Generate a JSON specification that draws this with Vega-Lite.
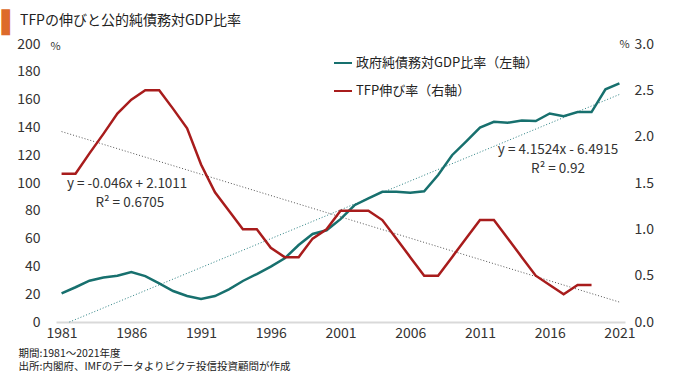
{
  "$schema": "https://vega.github.io/schema/vega-lite/v6.json",
  "autosize": {"type": "none"},
  "width": 569,
  "height": 278,
  "padding": {"left": 56, "top": 44, "right": 55, "bottom": 53},
  "background": "#ffffff",
  "config": {
    "font": "Noto Sans CJK JP",
    "view": {"stroke": null},
    "axis": {"grid": false, "titleFontWeight": "normal", "labelColor": "#333333", "titleColor": "#333333"}
  },
  "title": {
    "text": "TFPの伸びと公的純債務対GDP比率",
    "anchor": "start",
    "frame": "group",
    "dx": -36,
    "dy": 17,
    "offset": 0,
    "fontSize": 14,
    "fontWeight": "normal",
    "color": "#222222",
    "font": "Noto Sans CJK JP"
  },
  "datasets": {
    "debt": [
      {"year": 1981, "v": 20.6}, {"year": 1982, "v": 25.0}, {"year": 1983, "v": 29.7}, {"year": 1984, "v": 32.0},
      {"year": 1985, "v": 33.3}, {"year": 1986, "v": 36.0}, {"year": 1987, "v": 33.0}, {"year": 1988, "v": 27.8},
      {"year": 1989, "v": 22.3}, {"year": 1990, "v": 18.7}, {"year": 1991, "v": 16.5}, {"year": 1992, "v": 18.7},
      {"year": 1993, "v": 23.5}, {"year": 1994, "v": 29.5}, {"year": 1995, "v": 34.5}, {"year": 1996, "v": 39.8},
      {"year": 1997, "v": 45.8}, {"year": 1998, "v": 55.4}, {"year": 1999, "v": 63.3}, {"year": 2000, "v": 66.0},
      {"year": 2001, "v": 74.0}, {"year": 2002, "v": 84.0}, {"year": 2003, "v": 89.0}, {"year": 2004, "v": 93.7},
      {"year": 2005, "v": 93.7}, {"year": 2006, "v": 93.0}, {"year": 2007, "v": 94.0}, {"year": 2008, "v": 105.8},
      {"year": 2009, "v": 120.0}, {"year": 2010, "v": 129.7}, {"year": 2011, "v": 139.8}, {"year": 2012, "v": 144.0},
      {"year": 2013, "v": 143.4}, {"year": 2014, "v": 145.0}, {"year": 2015, "v": 144.6}, {"year": 2016, "v": 150.0},
      {"year": 2017, "v": 148.0}, {"year": 2018, "v": 151.0}, {"year": 2019, "v": 151.0}, {"year": 2020, "v": 167.4},
      {"year": 2021, "v": 171.7}
    ],
    "tfp": [
      {"year": 1981, "v": 1.6}, {"year": 1982, "v": 1.6}, {"year": 1983, "v": 1.82}, {"year": 1984, "v": 2.03},
      {"year": 1985, "v": 2.25}, {"year": 1986, "v": 2.4}, {"year": 1987, "v": 2.5}, {"year": 1988, "v": 2.5},
      {"year": 1989, "v": 2.3}, {"year": 1990, "v": 2.09}, {"year": 1991, "v": 1.7}, {"year": 1992, "v": 1.4},
      {"year": 1993, "v": 1.2}, {"year": 1994, "v": 1.0}, {"year": 1995, "v": 1.0}, {"year": 1996, "v": 0.8},
      {"year": 1997, "v": 0.7}, {"year": 1998, "v": 0.7}, {"year": 1999, "v": 0.9}, {"year": 2000, "v": 1.0},
      {"year": 2001, "v": 1.2}, {"year": 2002, "v": 1.2}, {"year": 2003, "v": 1.2}, {"year": 2004, "v": 1.1},
      {"year": 2005, "v": 0.9}, {"year": 2006, "v": 0.7}, {"year": 2007, "v": 0.5}, {"year": 2008, "v": 0.5},
      {"year": 2009, "v": 0.7}, {"year": 2010, "v": 0.9}, {"year": 2011, "v": 1.1}, {"year": 2012, "v": 1.1},
      {"year": 2013, "v": 0.9}, {"year": 2014, "v": 0.7}, {"year": 2015, "v": 0.5}, {"year": 2016, "v": 0.4},
      {"year": 2017, "v": 0.3}, {"year": 2018, "v": 0.4}, {"year": 2019, "v": 0.4}
    ],
    "debtTrend": [{"year": 1981.56, "v": 0}, {"year": 2021, "v": 163.7}],
    "tfpTrend": [{"year": 1981, "v": 2.055}, {"year": 2021, "v": 0.215}],
    "labels": [
      {"year": 1985.7, "v": 99.5, "text": "y = -0.046x + 2.1011"},
      {"year": 1985.9, "v": 85.5, "text": "R² = 0.6705"},
      {"year": 2016.6, "v": 124.0, "text": "y = 4.1524x - 6.4915"},
      {"year": 2016.6, "v": 110.0, "text": "R² = 0.92"}
    ]
  },
  "layer": [
    {
      "encoding": {
        "x": {
          "field": "year", "type": "quantitative",
          "scale": {"domain": [1980.6, 2021.4], "nice": false, "zero": false},
          "axis": {
            "orient": "bottom",
            "values": [1981, 1986, 1991, 1996, 2001, 2006, 2011, 2016, 2021],
            "format": "d",
            "labelFlush": false,
            "labelOverlap": false,
            "domain": true, "domainColor": "#d9d9d9", "domainWidth": 2,
            "ticks": false,
            "labelFontSize": 14, "labelPadding": 4,
            "title": ["期間:1981～2021年度", "出所:内閣府、IMFのデータよりピクテ投信投資顧問が作成"],
            "titleFontSize": 10.5, "titleAnchor": "start", "titleAlign": "left",
            "titleBaseline": "top", "titleX": -38, "titleY": 26, "titleLineHeight": 13.5,
            "titleColor": "#222222"
          }
        },
        "y": {
          "field": "v", "type": "quantitative",
          "scale": {"domain": [0, 200], "nice": false},
          "axis": {
            "orient": "left",
            "values": [0, 20, 40, 60, 80, 100, 120, 140, 160, 180, 200],
            "domain": false, "ticks": false, "tickSize": 0,
            "labelFontSize": 14, "labelPadding": 16,
            "title": "%", "titleAngle": 0, "titleX": -1, "titleY": 2,
            "titleAlign": "center", "titleBaseline": "middle", "titleFontSize": 11
          }
        }
      },
      "layer": [
        {
          "data": {"name": "debtTrend"},
          "mark": {"type": "line", "color": "#2a8082", "strokeWidth": 1, "strokeDash": [1, 2]},
          "encoding": {}
        },
        {
          "data": {"name": "debt"},
          "mark": {"type": "line", "strokeWidth": 2.5},
          "encoding": {
            "color": {
              "datum": "政府純債務対GDP比率（左軸）",
              "scale": {"domain": ["政府純債務対GDP比率（左軸）", "TFP伸び率（右軸）"], "range": ["#17706e", "#a81c1c"]},
              "legend": {
                "orient": "none", "legendX": 277, "legendY": 9, "title": null,
                "symbolType": "stroke", "symbolSize": 324, "symbolStrokeWidth": 2,
                "labelFontSize": 13, "labelColor": "#222222", "labelOffset": 3, "rowPadding": 11,
                "labelLimit": 400
              }
            }
          }
        },
        {
          "data": {"name": "labels"},
          "mark": {"type": "text", "fontSize": 13.5, "color": "#333333", "align": "center", "baseline": "middle"},
          "encoding": {"text": {"field": "text"}}
        }
      ]
    },
    {
      "encoding": {
        "x": {
          "field": "year", "type": "quantitative",
          "axis": {
            "orient": "top", "domain": false, "ticks": false, "labels": false,
            "title": "▌", "titleColor": "#dd6a2b", "titleFont": "DejaVu Sans", "titleFontSize": 22,
            "titleAngle": 0, "titleAlign": "right", "titleBaseline": "middle", "titleX": -38, "titleY": -22
          }
        },
        "y": {
          "field": "v", "type": "quantitative",
          "scale": {"domain": [0, 3], "nice": false},
          "axis": {
            "orient": "right",
            "values": [0, 0.5, 1, 1.5, 2, 2.5, 3],
            "format": ".1f",
            "domain": false, "ticks": false, "tickSize": 0,
            "labelFontSize": 14, "labelPadding": 9,
            "title": "%", "titleAngle": 0, "titleX": -1, "titleY": 0,
            "titleAlign": "center", "titleBaseline": "middle", "titleFontSize": 11
          }
        }
      },
      "layer": [
        {
          "data": {"name": "tfpTrend"},
          "mark": {"type": "line", "color": "#555555", "strokeWidth": 1, "strokeDash": [1, 2]},
          "encoding": {}
        },
        {
          "data": {"name": "tfp"},
          "mark": {"type": "line", "strokeWidth": 2.5},
          "encoding": {"color": {"datum": "TFP伸び率（右軸）"}}
        }
      ]
    }
  ],
  "resolve": {"scale": {"y": "independent"}, "axis": {"x": "independent"}}
}
